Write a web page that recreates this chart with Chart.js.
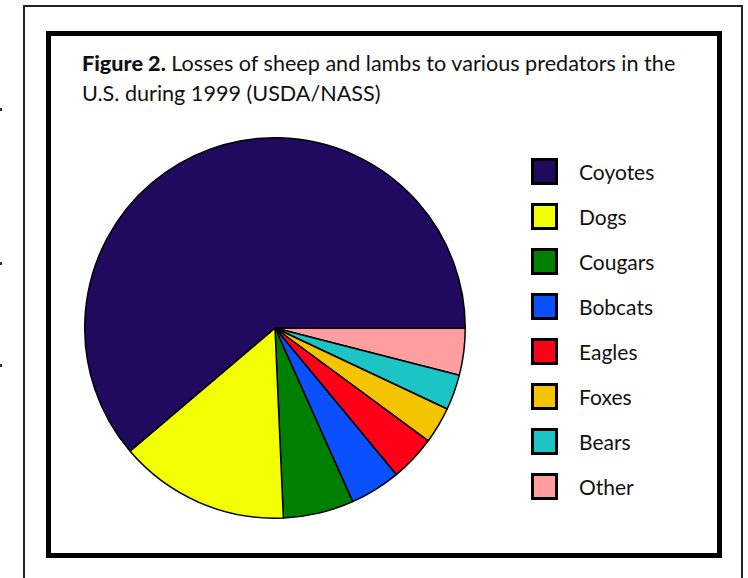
<!DOCTYPE html>
<html>
<head>
<meta charset="utf-8">
<script src="https://cdn.jsdelivr.net/npm/chart.js@4.4.1/dist/chart.umd.min.js"></script>
<style>
    html, body { margin: 0; padding: 0; background: #fff; }
    body { width: 748px; height: 578px; position: relative; overflow: hidden; font-family: Lato, "Open Sans", sans-serif; color: #111; }
    .outer { position: absolute; left: 23px; top: 5px; width: 716px; height: 600px; border: 2px solid #222; }
    .inner { position: absolute; left: 46px; top: 31px; width: 666px; height: 517px; border: 5px solid #000; }
    .tick { position: absolute; left: 0; width: 2px; height: 3px; background: #333; }
    .title { position: absolute; left: 82px; top: 48px; font-size: 21.6px; line-height: 30px; white-space: nowrap; }
    .title b { font-weight: 900; }
    #pieWrap { position: absolute; left: 84px; top: 137px; width: 382px; height: 382px; }
    .legend { position: absolute; left: 531px; top: 158px; }
    .item { position: absolute; left: 0; width: 200px; height: 27px; }
    .swatch { position: absolute; left: 0; top: 0; width: 27px; height: 27px; box-sizing: border-box; border: 3px solid #000; }
    .lbl { position: absolute; left: 48px; top: 0; line-height: 27px; font-size: 21px; }
</style>
</head>
<body>
<div class="outer"></div>
<div class="inner"></div>
<div class="tick" style="top:108px"></div>
<div class="tick" style="top:262px"></div>
<div class="tick" style="top:364px"></div>
<div class="title"><b>Figure 2.</b> Losses of sheep and lambs to various predators in the<br>U.S. during 1999 (USDA/NASS)</div>
<div id="pieWrap"><canvas id="pieChart"></canvas></div>
<div class="legend" id="legend"></div>

<script>
// share of sheep/lamb predator losses, percent
const predators = ['Coyotes', 'Dogs', 'Cougars', 'Bobcats', 'Eagles', 'Foxes', 'Bears', 'Other'];
const lossShare = [61.2, 14.5, 6.0, 4.3, 3.9, 3.1, 3.0, 4.0];
const sliceColors = ['#1f0a5f', '#f2ff00', '#008000', '#0a50ff', '#ff0018', '#f5c400', '#1cc4c4', '#ff9ea0'];

// legend (same order as the figure)
const legendEl = document.getElementById('legend');
predators.forEach(function(name, i) {
    const item = document.createElement('div');
    item.className = 'item';
    item.style.top = (i * 45) + 'px';
    item.innerHTML = '<div class="swatch" style="background:' + sliceColors[i] + '"></div><div class="lbl">' + name + '</div>';
    legendEl.appendChild(item);
});

// the original runs counter-clockwise from 3 o'clock, so feed it reversed
const pieLabels = predators.slice().reverse();
const pieData = lossShare.slice().reverse();
const pieColors = sliceColors.slice().reverse();

const ctx = document.getElementById('pieChart').getContext('2d');
new Chart(ctx, {
    type: 'pie',
    data: {
        labels: pieLabels,
        datasets: [{
            data: pieData,
            backgroundColor: pieColors,
            borderColor: '#000',
            borderWidth: 1.5,
            hoverOffset: 0
        }]
    },
    options: {
        responsive: true,
        maintainAspectRatio: false,
        animation: false,
        rotation: 90,
        layout: { padding: 0 },
        plugins: {
            legend: { display: false },
            tooltip: { enabled: false }
        }
    }
});
</script>
</body>
</html>
